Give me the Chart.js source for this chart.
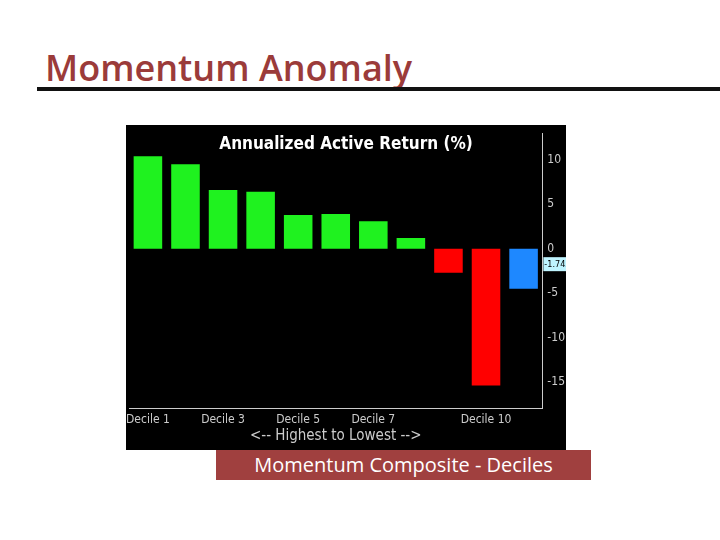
<!DOCTYPE html>
<html>
<head>
<meta charset="utf-8">
<script src="https://cdn.jsdelivr.net/npm/chart.js@4.4.0/dist/chart.umd.min.js"></script>
<style>
body { margin: 0; width: 720px; height: 540px; background: #fff; position: relative; overflow: hidden; font-family: "Liberation Sans", Arial, sans-serif; }
#titulo { position: absolute; left: 45px; top: 43px; font-size: 36px; font-weight: 600; color: #9b3b3a; font-family: "Open Sans", sans-serif; }
#linha { position: absolute; left: 37px; top: 87px; width: 683px; height: 4px; background: #111; }
#caixa { position: absolute; left: 126px; top: 125px; width: 440px; height: 325px; background: #000; }
#legenda { position: absolute; left: 216px; top: 450px; width: 375px; height: 30px; background: #a0403f; color: #fff; font-size: 20px; text-align: center; line-height: 30px; font-family: "Open Sans", sans-serif; }
</style>
</head>
<body>
<div id="titulo">Momentum Anomaly</div>
<div id="linha"></div>
<div id="caixa"><canvas id="chartDecis" width="440" height="325"></canvas></div>
<div id="legenda">Momentum Composite - Deciles</div>
<script>
// categorias e valores
var decis = ['Decile 1', 'Decile 2', 'Decile 3', 'Decile 4', 'Decile 5', 'Decile 6', 'Decile 7', 'Decile 8', 'Decile 9', 'Decile 10', 'Spread'];
var retornos = [10.4, 9.5, 6.6, 6.4, 3.8, 3.9, 3.1, 1.2, -2.7, -15.4, -4.5];
var cores = ['#1ff21f', '#1ff21f', '#1ff21f', '#1ff21f', '#1ff21f', '#1ff21f', '#1ff21f', '#1ff21f', '#ff0000', '#ff0000', '#1e88ff'];
var rotulosVisiveis = ['Decile 1', 'Decile 3', 'Decile 5', 'Decile 7', 'Decile 10'];
var ticksY = [10, 5, 0, -5, -10, -15];
var valorMarcado = -1.7431;

// desenha o rótulo do valor marcado no eixo direito
const marcador = {
    id: 'marcador',
    afterDraw(chart) {
        const ctx = chart.ctx;
        const y = chart.scales.y.getPixelForValue(valorMarcado);
        const x = chart.scales.y.left + 1;
        ctx.save();
        ctx.fillStyle = '#bff4ff';
        ctx.fillRect(x, y - 7, 30, 14);
        ctx.fillStyle = '#000';
        ctx.font = '9px "DejaVu Sans Condensed", sans-serif';
        ctx.textBaseline = 'middle';
        ctx.fillText(valorMarcado.toString(), x + 1, y);
        ctx.restore();
    }
};

new Chart(document.getElementById('chartDecis'), {
    type: 'bar',
    data: {
        labels: decis,
        datasets: [{ label: 'Retorno', data: retornos, backgroundColor: cores, categoryPercentage: 1, barPercentage: 0.76 }]
    },
    options: {
        responsive: false,
        animation: false,
        layout: { padding: { left: 0, right: 0, top: 0, bottom: 5 } },
        plugins: {
            legend: { display: false },
            title: {
                display: true, text: 'Annualized Active Return (%)', color: '#fff',
                font: { size: 17, weight: 'bold', family: '"DejaVu Sans Condensed", sans-serif' },
                padding: { top: 2, bottom: -22 }
            },
            tooltip: { enabled: false }
        },
        scales: {
            x: {
                grid: { display: false, drawTicks: true, tickLength: 4 },
                border: { color: '#ccc' },
                ticks: {
                    color: '#ccc', maxRotation: 0, autoSkip: false, padding: 0,
                    font: { size: 12, family: '"DejaVu Sans Condensed", sans-serif' },
                    callback: function (v, i) { return rotulosVisiveis.indexOf(decis[i]) >= 0 ? decis[i] : ''; }
                },
                title: { display: true, text: '<-- Highest to Lowest -->', color: '#ccc', padding: 0, font: { size: 15, family: '"DejaVu Sans Condensed", sans-serif' } }
            },
            y: {
                position: 'right', min: -18, max: 13,
                afterBuildTicks: function (s) { s.ticks = ticksY.map(function (v) { return { value: v }; }); },
                grid: { display: false, drawTicks: true, tickLength: 4, tickColor: '#ccc' },
                border: { color: '#ccc' },
                ticks: { color: '#ccc', padding: 1, font: { size: 12, family: '"DejaVu Sans Condensed", sans-serif' } }
            }
        }
    },
    plugins: [marcador]
});
</script>
</body>
</html>
